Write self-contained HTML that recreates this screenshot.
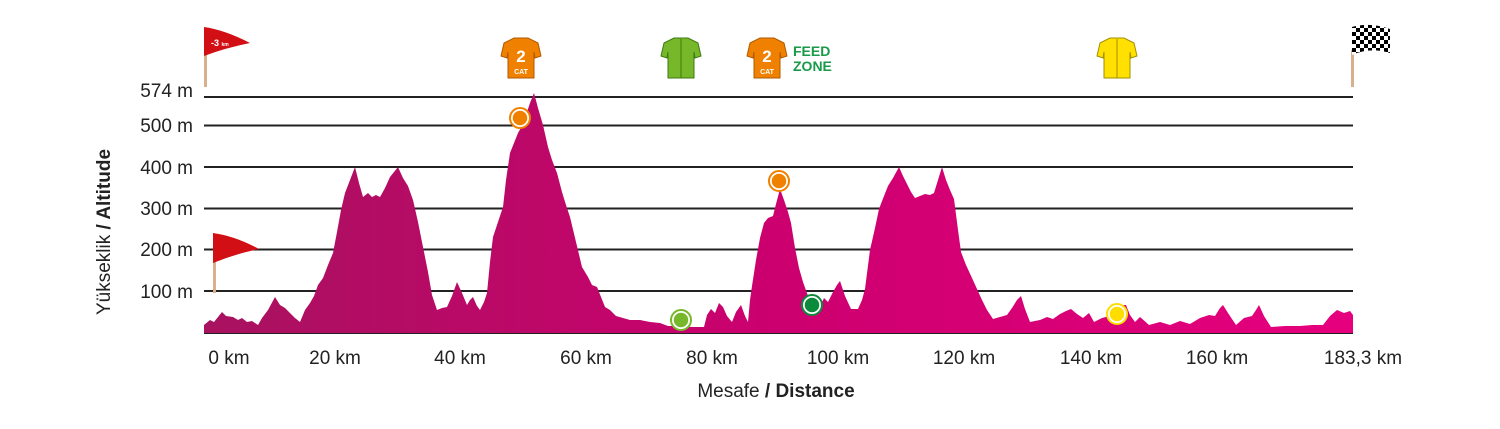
<!DOCTYPE html>
<html><head><meta charset="utf-8"><style>
html,body{margin:0;padding:0;background:#fff;}
svg{display:block;font-family:"Liberation Sans",sans-serif;}
</style></head><body>
<svg width="1500" height="429" viewBox="0 0 1500 429" xmlns="http://www.w3.org/2000/svg">
<defs>
<linearGradient id="g" x1="204" x2="1353" y1="0" y2="0" gradientUnits="userSpaceOnUse">
<stop offset="0" stop-color="#a8125f"/><stop offset="0.5" stop-color="#cc006f"/><stop offset="1" stop-color="#e6007e"/>
</linearGradient>
<pattern id="chk" width="8" height="8" patternUnits="userSpaceOnUse"><rect width="8" height="8" fill="#fff"/><rect width="4" height="4" fill="#000"/><rect x="4" y="4" width="4" height="4" fill="#000"/></pattern>
<path id="jp" d="M-7,-20 L7,-20 L17,-15 L20,-2 L14,0 L13,-6 L13,20 L-13,20 L-13,-6 L-14,0 L-20,-2 L-17,-15 Z"/>
</defs>
<g stroke="#222" stroke-width="2">
<line x1="204" y1="97" x2="1353" y2="97"/>
<line x1="204" y1="125.5" x2="1353" y2="125.5"/>
<line x1="204" y1="167" x2="1353" y2="167"/>
<line x1="204" y1="208.5" x2="1353" y2="208.5"/>
<line x1="204" y1="249.5" x2="1353" y2="249.5"/>
<line x1="204" y1="291" x2="1353" y2="291"/>
<line x1="204" y1="333" x2="1353" y2="333"/>
</g>
<path fill="url(#g)" d="M204,333 L204,325 L210,320 L214,322 L222,312 L226,316 L233,317 L238,320 L242,318 L247,322 L252,321 L258,325 L262,318 L268,310 L275,297 L280,305 L285,308 L290,313 L295,318 L300,322 L305,310 L310,303 L314,296 L318,285 L323,278 L328,265 L333,253 L337,232 L341,210 L345,193 L350,180 L355,167 L359,183 L363,197 L368,193 L372,197 L376,195 L380,197 L385,188 L390,177 L394,172 L398,167 L403,178 L408,186 L413,200 L418,222 L423,247 L428,272 L432,295 L437,310 L442,308 L447,307 L452,296 L457,282 L462,293 L467,305 L470,300 L473,297 L477,306 L480,310 L484,302 L487,293 L490,262 L493,237 L498,222 L503,207 L506,180 L510,153 L514,143 L518,133 L522,126 L526,115 L530,103 L534,93 L538,108 L543,125 L548,147 L552,160 L557,173 L562,192 L566,205 L570,217 L576,242 L582,267 L588,277 L592,285 L597,287 L601,297 L605,307 L610,310 L616,316 L623,318 L630,320 L640,320 L650,322 L660,323 L668,326 L680,326 L692,327 L704,327 L707,315 L711,309 L715,313 L719,303 L723,307 L727,316 L732,322 L736,312 L741,305 L745,316 L748,322 L750,300 L752,286 L756,260 L760,238 L764,223 L768,218 L773,216 L776,204 L780,189 L784,200 L788,212 L791,223 L795,248 L799,268 L803,282 L808,296 L814,309 L820,307 L824,298 L828,302 L833,292 L837,285 L840,281 L845,296 L851,309 L858,309 L862,300 L865,289 L870,250 L875,228 L879,209 L884,196 L888,186 L893,178 L899,167 L903,176 L908,186 L911,192 L915,198 L920,196 L925,194 L930,195 L934,193 L938,180 L942,167 L946,180 L950,190 L954,199 L958,230 L961,252 L966,265 L972,278 L977,289 L982,300 L987,310 L993,319 L1000,317 L1007,315 L1012,308 L1017,300 L1021,296 L1025,309 L1030,322 L1040,320 L1047,317 L1053,319 L1060,314 L1066,311 L1071,309 L1077,314 L1083,318 L1089,313 L1094,322 L1102,318 L1110,316 L1118,310 L1122,305 L1126,305 L1130,315 L1135,322 L1140,317 L1149,325 L1160,322 L1170,325 L1180,321 L1190,324 L1200,318 L1209,315 L1215,316 L1220,308 L1223,305 L1228,313 L1236,325 L1244,318 L1252,316 L1256,310 L1259,305 L1264,316 L1271,327 L1285,326 L1300,326 L1312,325 L1323,325 L1330,316 L1337,310 L1344,313 L1350,311 L1353,315 L1353,333 Z"/>
<g font-size="19" fill="#222" text-anchor="end">
<text x="193" y="97">574 m</text>
<text x="193" y="132">500 m</text>
<text x="193" y="174">400 m</text>
<text x="193" y="215">300 m</text>
<text x="193" y="256">200 m</text>
<text x="193" y="298">100 m</text>
</g>
<text transform="translate(110,232) rotate(-90)" font-size="19" fill="#222" text-anchor="middle">Yükseklik <tspan font-weight="bold">/ Altitude</tspan></text>
<g font-size="19" fill="#222" text-anchor="middle">
<text x="229" y="364">0 km</text>
<text x="335" y="364">20 km</text>
<text x="460" y="364">40 km</text>
<text x="586" y="364">60 km</text>
<text x="712" y="364">80 km</text>
<text x="838" y="364">100 km</text>
<text x="964" y="364">120 km</text>
<text x="1091" y="364">140 km</text>
<text x="1217" y="364">160 km</text>
<text x="1363" y="364">183,3 km</text>
<text x="776" y="397">Mesafe <tspan font-weight="bold">/ Distance</tspan></text>
</g>
<g stroke-width="2.5">
<circle cx="520" cy="118" r="8.5" fill="#f08000" stroke="#fff"/><circle cx="520" cy="118" r="10" fill="none" stroke="#f08000" stroke-width="2"/>
<circle cx="779" cy="181" r="8.5" fill="#f08000" stroke="#fff"/><circle cx="779" cy="181" r="10" fill="none" stroke="#f08000" stroke-width="2"/>
<circle cx="681" cy="320" r="8.5" fill="#76b82a" stroke="#fff"/><circle cx="681" cy="320" r="10" fill="none" stroke="#76b82a" stroke-width="2"/>
<circle cx="812" cy="305" r="8.5" fill="#0a8a3a" stroke="#fff"/><circle cx="812" cy="305" r="10" fill="none" stroke="#0a8a3a" stroke-width="2"/>
<circle cx="1117" cy="314" r="8.5" fill="#ffdd00" stroke="#fff"/><circle cx="1117" cy="314" r="10" fill="none" stroke="#ffdd00" stroke-width="2"/>
</g>
<g transform="translate(521,58)"><use href="#jp" fill="#f08000" stroke="#b05a00" stroke-width="1"/><text y="4" font-size="17" font-weight="bold" fill="#fff" text-anchor="middle">2</text><text y="16" font-size="7" font-weight="bold" fill="#fff" text-anchor="middle">CAT</text></g>
<g transform="translate(681,58)"><use href="#jp" fill="#76b82a" stroke="#3f7a10" stroke-width="1"/><line x1="0" y1="-19" x2="0" y2="20" stroke="#3f7a10"/></g>
<g transform="translate(767,58)"><use href="#jp" fill="#f08000" stroke="#b05a00" stroke-width="1"/><text y="4" font-size="17" font-weight="bold" fill="#fff" text-anchor="middle">2</text><text y="16" font-size="7" font-weight="bold" fill="#fff" text-anchor="middle">CAT</text></g>
<g transform="translate(1117,58)"><use href="#jp" fill="#ffe000" stroke="#a09000" stroke-width="1"/><line x1="0" y1="-19" x2="0" y2="20" stroke="#a09000"/></g>
<g font-size="14" font-weight="bold" fill="#1a9a48"><text x="793" y="56">FEED</text><text x="793" y="71">ZONE</text></g>
<rect x="204" y="45" width="3" height="42" fill="#d9b08c"/>
<path d="M204,27 Q225,30 250,43 Q225,48 204,56 Z" fill="#d10f14"/>
<text x="211" y="46" font-size="9" font-weight="bold" fill="#fff">-3 <tspan font-size="5">km</tspan></text>
<rect x="213" y="250" width="3" height="43" fill="#d9b08c"/>
<path d="M213,233 Q235,236 259,249 Q235,254 213,263 Z" fill="#d10f14"/>
<rect x="1351" y="50" width="3" height="37" fill="#d9b08c"/>
<path d="M1352,27 Q1370,22 1390,29 L1390,53 Q1370,47 1352,55 Z" fill="url(#chk)"/>
</svg>
</body></html>
